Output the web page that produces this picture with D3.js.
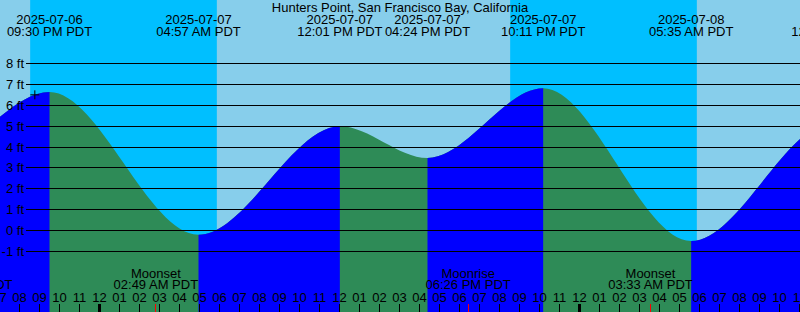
<!DOCTYPE html>
<html>
<head>
<meta charset="utf-8">
<script src="https://cdn.jsdelivr.net/npm/d3@7"></script>
<style>
  body { margin: 0; background: #fff; }
  svg { display: block; font-family: "Liberation Sans", Arial, sans-serif; font-size: 13px; }
</style>
</head>
<body>
<svg id="chart"></svg>
<script>
// tide highs and lows (local time, PDT), heights in ft
const tideTimes = ["2025-07-06 11:15", "2025-07-06 15:42", "2025-07-06 21:30", "2025-07-07 04:57",
                   "2025-07-07 12:01", "2025-07-07 16:24", "2025-07-07 22:11", "2025-07-08 05:35",
                   "2025-07-08 12:43", "2025-07-08 17:05"];
const tideHeights = [5.1, 3.6, 6.63, -0.2, 5.0, 3.48, 6.81, -0.5, 5.2, 3.3];

// night = sunset -> sunrise
const sunsetTimes = ["2025-07-06 20:32", "2025-07-07 20:32"];
const sunriseTimes = ["2025-07-07 05:52", "2025-07-08 05:52"];

const moonNames = ["Moonrise", "Moonset", "Moonrise", "Moonset"];
const moonTimes = ["2025-07-06 17:31", "2025-07-07 02:49", "2025-07-07 18:26", "2025-07-08 03:33"];

const depthTicks = [-1, 0, 1, 2, 3, 4, 5, 6, 7, 8];

// the little "+" mark on the curve
const markTime = "2025-07-06 20:46";
const markHeight = 6.5;

const title = "Hunters Point, San Francisco Bay, California";

class TideChart {

  constructor(_config) {
    this.config = {
      parentElement: _config.parentElement,
      containerWidth: _config.containerWidth || 800,
      containerHeight: _config.containerHeight || 312
    }
    this.initVis();
  }

  initVis() {
    let vis = this;
    const W = vis.config.containerWidth, H = vis.config.containerHeight;
    const parse = d3.timeParse("%Y-%m-%d %H:%M");

    vis.tides = tideTimes.map((t, i) => ({ t: parse(t), h: tideHeights[i] }));

    // 20px per hour, midnight of the 7th at x=99.5
    vis.x = d3.scaleTime()
      .domain([parse("2025-07-07 00:00"), parse("2025-07-08 00:00")])
      .range([99.5, 579.5]);
    vis.y = d3.scaleLinear().domain([-1, 8]).range([251.5, 63.5]);
    const x = vis.x, y = vis.y;

    vis.svg = d3.select(vis.config.parentElement)
      .attr("width", W)
      .attr("height", H);

    // day / night background
    vis.svg.append("rect").attr("width", W).attr("height", H).attr("fill", "#87ceeb");
    vis.svg.selectAll("rect.night")
      .data(sunsetTimes)
      .enter().append("rect")
        .attr("class", "night")
        .attr("x", d => x(parse(d)))
        .attr("width", (d, i) => x(parse(sunriseTimes[i])) - x(parse(d)))
        .attr("y", 0)
        .attr("height", H)
        .attr("fill", "#00bfff");

    // water, green when falling, blue when rising
    const area = d3.area()
      .x(d => x(d.t))
      .y0(H)
      .y1(d => y(d.h))
      .curve(d3.curveMonotoneX);

    const defs = vis.svg.append("defs");
    vis.svg.append("path").datum(vis.tides).attr("d", area).attr("fill", "#2e8b57");

    vis.tides.slice(1).forEach((d, i) => {
      const prev = vis.tides[i];
      if (d.h <= prev.h) return;
      defs.append("clipPath").attr("id", "seg" + i)
        .append("rect")
          .attr("x", x(prev.t))
          .attr("width", x(d.t) - x(prev.t))
          .attr("y", 0)
          .attr("height", H);
      vis.svg.append("path").datum(vis.tides)
        .attr("d", area)
        .attr("fill", "#0000ff")
        .attr("clip-path", "url(#seg" + i + ")");
    });

    // depth grid
    vis.svg.selectAll("line.grid")
      .data(depthTicks)
      .enter().append("line")
        .attr("class", "grid")
        .attr("x1", 26).attr("x2", W)
        .attr("y1", d => Math.floor(y(d)) + 0.5)
        .attr("y2", d => Math.floor(y(d)) + 0.5)
        .attr("stroke", "#000")
        .attr("shape-rendering", "crispEdges");
    vis.svg.selectAll("text.depth")
      .data(depthTicks)
      .enter().append("text")
        .attr("class", "depth")
        .attr("x", 24)
        .attr("y", d => Math.floor(y(d)) + 5)
        .attr("text-anchor", "end")
        .text(d => d + " ft");

    // + mark
    const mx = x(parse(markTime)), my = y(markHeight);
    vis.svg.append("path")
      .attr("d", `M${mx - 4.5},${my}H${mx + 4.5}M${mx},${my - 4.5}V${my + 4.5}`)
      .attr("stroke", "#000");

    // title + tide event labels
    vis.svg.append("text").attr("x", W / 2).attr("y", 12).attr("text-anchor", "middle").text(title);

    const fmtDate = d3.timeFormat("%Y-%m-%d"), fmtTime = d3.timeFormat("%I:%M %p PDT");
    const tl = vis.svg.selectAll("g.tlab").data(vis.tides).enter().append("g")
      .attr("class", "tlab")
      .attr("transform", d => `translate(${x(d.t)},0)`)
      .attr("text-anchor", "middle");
    tl.append("text").attr("y", 24).text(d => fmtDate(d.t));
    tl.append("text").attr("y", 35.5).text(d => fmtTime(d.t));

    // hour ticks along the bottom
    const hours = d3.timeHour.range(x.invert(-20), x.invert(W + 20));
    vis.svg.selectAll("rect.tick")
      .data(hours)
      .enter().append("rect")
        .attr("class", "tick")
        .attr("x", d => Math.floor(x(d)) - (d.getHours() === 0 ? 1 : 0))
        .attr("width", d => d.getHours() === 0 ? 3 : 1)
        .attr("y", 304)
        .attr("height", H - 304)
        .attr("fill", "#000");
    vis.svg.selectAll("text.hour")
      .data(hours)
      .enter().append("text")
        .attr("class", "hour")
        .attr("x", d => x(d))
        .attr("y", 302)
        .attr("text-anchor", "middle")
        .text(d3.timeFormat("%I"));

    // moon events
    const moon = moonTimes.map((t, i) => ({ t: parse(t), name: moonNames[i] }));
    vis.svg.selectAll("rect.moon")
      .data(moon)
      .enter().append("rect")
        .attr("class", "moon")
        .attr("x", d => Math.floor(x(d.t)))
        .attr("width", 1)
        .attr("y", 304)
        .attr("height", H - 304)
        .attr("fill", "#ff0000");
    const ml = vis.svg.selectAll("g.mlab").data(moon).enter().append("g")
      .attr("class", "mlab")
      .attr("transform", d => `translate(${x(d.t)},0)`)
      .attr("text-anchor", "middle");
    ml.append("text").attr("y", 278).text(d => d.name);
    ml.append("text").attr("y", 289).text(d => fmtTime(d.t));
  }
}

new TideChart({ parentElement: "#chart" });
</script>
</body>
</html>
